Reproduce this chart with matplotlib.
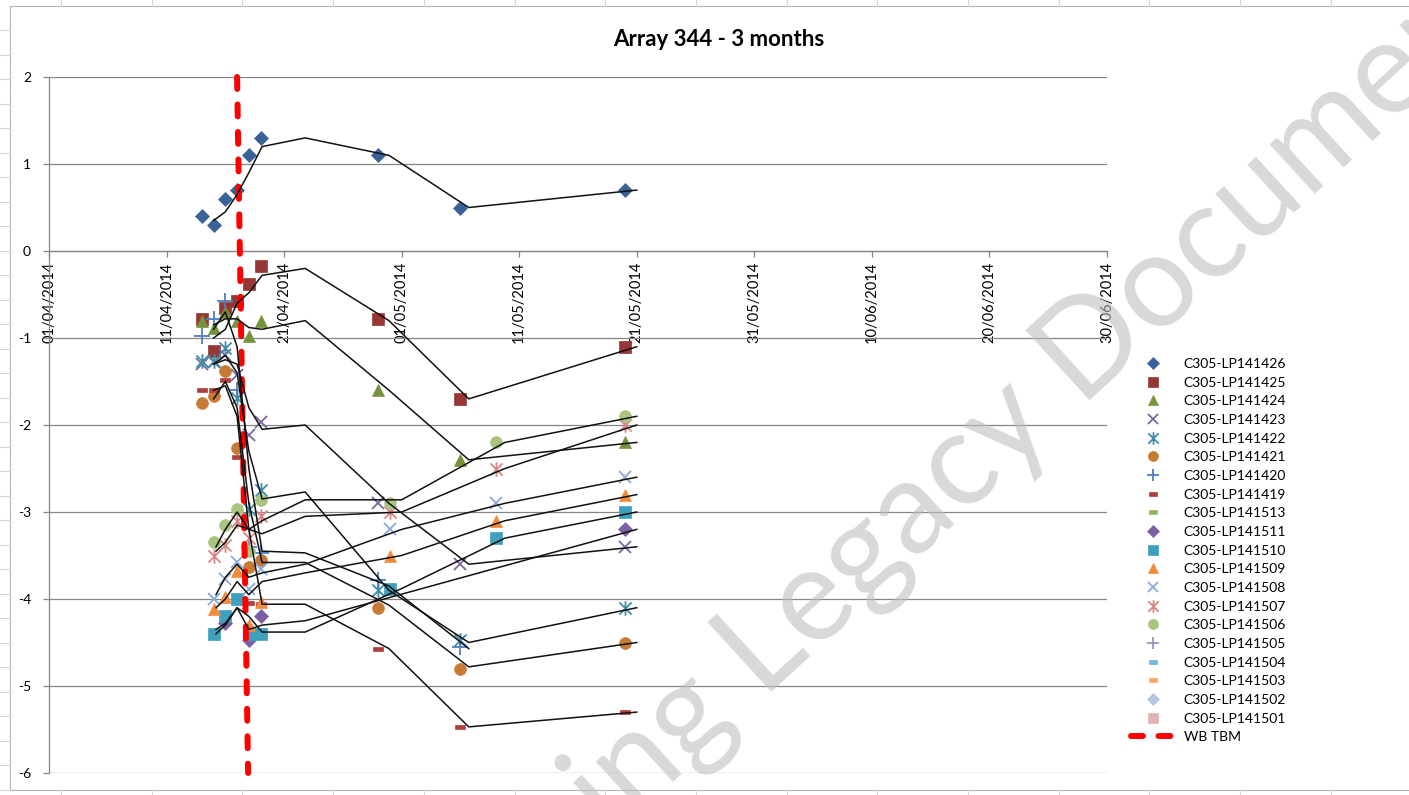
import numpy as np
import pandas as pd
import matplotlib
matplotlib.use("Agg")
import matplotlib.pyplot as plt
import matplotlib.dates as mdates
from matplotlib.path import Path
from matplotlib.lines import Line2D

plt.rcParams["font.family"] = ["Lato", "DejaVu Sans"]
plt.rcParams["axes.unicode_minus"] = False

# ---------------- data ----------------
TITLE = "Array 344 - 3 months"

TICK_DATES = ["2014-04-01", "2014-04-11", "2014-04-21", "2014-05-01", "2014-05-11",
              "2014-05-21", "2014-05-31", "2014-06-10", "2014-06-20", "2014-06-30"]
TICK_LABELS = ["01/04/2014", "11/04/2014", "21/04/2014", "01/05/2014", "11/05/2014",
               "21/05/2014", "31/05/2014", "10/06/2014", "20/06/2014", "30/06/2014"]

# LP14xx readings
A_DATES = ["2014-04-14", "2014-04-15", "2014-04-16", "2014-04-17", "2014-04-18",
           "2014-04-19", "2014-04-29", "2014-05-06", "2014-05-20"]
A_LINE_DATES = ["2014-04-15 00:00", "2014-04-16 00:00", "2014-04-17 00:00", "2014-04-18 00:00",
                "2014-04-19 03:00", "2014-04-22 19:00", "2014-04-29 22:00", "2014-05-06 17:00",
                "2014-05-21 00:00"]

LP141426 = [0.4, 0.3, 0.6, 0.7, 1.1, 1.3, 1.1, 0.5, 0.7]
LP141425 = [-0.78, -1.15, -0.66, -0.57, -0.38, -0.17, -0.78, -1.7, -1.1]
LP141424 = [-0.8, -0.89, -0.7, -0.8, -0.98, -0.8, -1.6, -2.4, -2.2]
LP141423 = [-1.3, -1.28, -1.2, -1.43, -2.12, -1.97, -2.9, -3.6, -3.4]
LP141422 = [-1.27, -1.27, -1.12, -1.69, -2.97, -2.75, -3.9, -4.47, -4.1]
LP141421 = [-1.75, -1.67, -1.38, -2.26, -3.63, -3.55, -4.1, -4.8, -4.5]
LP141420 = [-0.98, -0.78, -0.58, -1.6, -3.4, -3.47, -3.78, -4.55, np.nan]
LP141419 = [-1.6, -1.6, -1.48, -2.37, -4.05, -4.06, -4.57, -5.47, -5.3]

LP141426_TREND = [0.35, 0.45, 0.65, 0.9, 1.2, 1.3, 1.1, 0.5, 0.7]
LP141425_TREND = [-1.0, -0.9, -0.6, -0.48, -0.28, -0.2, -0.8, -1.7, -1.1]
LP141424_TREND = [-0.85, -0.78, -0.78, -0.88, -0.9, -0.8, -1.6, -2.4, -2.2]
LP141423_TREND = [-1.3, -1.25, -1.3, -1.8, -2.05, -2.0, -2.9, -3.6, -3.4]
LP141422_TREND = [-1.3, -1.2, -1.4, -2.3, -2.85, -2.77, -3.9, -4.5, -4.1]
LP141421_TREND = [-1.7, -1.5, -1.8, -2.9, -3.58, -3.58, -4.07, -4.78, -4.5]
LP141420_TREND = [-0.9, -0.7, -1.1, -2.5, -3.45, -3.47, -3.85, -4.57, np.nan]
LP141419_TREND = [-1.6, -1.55, -1.9, -3.2, -4.06, -4.06, -4.57, -5.47, -5.3]

# LP15xx readings
B_DATES = ["2014-04-15", "2014-04-16", "2014-04-17", "2014-04-18", "2014-04-19",
           "2014-04-30", "2014-05-09", "2014-05-20"]
B_LINE_DATES = ["2014-04-15 05:00", "2014-04-16 00:00", "2014-04-17 00:00", "2014-04-18 00:00",
                "2014-04-19 03:00", "2014-04-22 19:00", "2014-05-01 00:00", "2014-05-09 19:00",
                "2014-05-21 00:00"]

LP141511 = [np.nan, -4.28, np.nan, -4.47, -4.2, np.nan, np.nan, -3.2]
LP141510 = [-4.4, -4.2, -4.0, -4.4, -4.4, -3.88, -3.3, -3.0]
LP141509 = [-4.12, -3.98, -3.68, -4.3, -4.03, -3.5, -3.1, -2.8]
LP141508 = [-4.0, -3.77, -3.57, -3.88, -3.66, -3.2, -2.9, -2.6]
LP141507 = [-3.5, -3.38, -3.1, -3.3, -3.05, -3.0, -2.5, -2.0]
LP141506 = [-3.35, -3.15, -2.97, -3.45, -2.86, -2.9, -2.2, -1.9]

LP141511_TREND = [-4.35, -4.28, -4.1, -4.35, -4.3, -4.25, np.nan, np.nan, -3.2]
LP141510_TREND = [-4.4, -4.3, -4.1, -4.2, -4.38, -4.38, -3.88, -3.3, -3.0]
LP141509_TREND = [-4.1, -4.0, -3.8, -3.95, -3.8, -3.7, -3.5, -3.1, -2.8]
LP141508_TREND = [-3.95, -3.75, -3.6, -3.75, -3.7, -3.6, -3.2, -2.9, -2.6]
LP141507_TREND = [-3.45, -3.35, -3.15, -3.2, -3.25, -3.05, -3.0, -2.5, -2.0]
LP141506_TREND = [-3.4, -3.2, -3.0, -3.2, -3.1, -2.86, -2.86, -2.2, -1.9]

TBM_DATES = ["2014-04-17 00:00", "2014-04-17 22:30"]
TBM_VALUES = [2, -6]

# ---------------- styling ----------------
ASTERISK = Path([(-1, -1), (1, 1), (-1, 1), (1, -1), (0, -1.2), (0, 1.2)],
                [Path.MOVETO, Path.LINETO, Path.MOVETO, Path.LINETO, Path.MOVETO, Path.LINETO])
DASH = Path([(-1, -0.45), (1, -0.45), (1, 0.45), (-1, 0.45), (-1, -0.45)],
            [Path.MOVETO, Path.LINETO, Path.LINETO, Path.LINETO, Path.CLOSEPOLY])

STYLE = {
    "C305-LP141426": dict(marker="D", ms=7, color="#3A6296"),
    "C305-LP141425": dict(marker="s", ms=8, color="#953735"),
    "C305-LP141424": dict(marker="^", ms=9, color="#76923C"),
    "C305-LP141423": dict(marker="x", ms=8.5, color="#7B67A0", line=True),
    "C305-LP141422": dict(marker=ASTERISK, ms=10.5, color="#3E8EA8", line=True),
    "C305-LP141421": dict(marker="o", ms=8.5, color="#C77A35"),
    "C305-LP141420": dict(marker="+", ms=11, color="#4F7EC0", line=True),
    "C305-LP141419": dict(marker=DASH, ms=6.5, color="#B0403D"),
    "C305-LP141513": dict(marker=DASH, ms=6.5, color="#93B55A"),
    "C305-LP141511": dict(marker="D", ms=7, color="#7B5FA0"),
    "C305-LP141510": dict(marker="s", ms=8, color="#3FA0BD"),
    "C305-LP141509": dict(marker="^", ms=9, color="#F28C3C"),
    "C305-LP141508": dict(marker="x", ms=8.5, color="#8AA8DA", line=True),
    "C305-LP141507": dict(marker=ASTERISK, ms=10.5, color="#D98685", line=True),
    "C305-LP141506": dict(marker="o", ms=8.5, color="#A9C47F"),
    "C305-LP141505": dict(marker="+", ms=11, color="#A090C0", line=True),
    "C305-LP141504": dict(marker=DASH, ms=6.5, color="#6BBDD3"),
    "C305-LP141503": dict(marker=DASH, ms=6.5, color="#F8A86A"),
    "C305-LP141502": dict(marker="D", ms=7, color="#B4C4E3"),
    "C305-LP141501": dict(marker="s", ms=8, color="#E0B4B4"),
}

A_SERIES = {
    "C305-LP141426": (LP141426, LP141426_TREND),
    "C305-LP141425": (LP141425, LP141425_TREND),
    "C305-LP141424": (LP141424, LP141424_TREND),
    "C305-LP141423": (LP141423, LP141423_TREND),
    "C305-LP141422": (LP141422, LP141422_TREND),
    "C305-LP141421": (LP141421, LP141421_TREND),
    "C305-LP141420": (LP141420, LP141420_TREND),
    "C305-LP141419": (LP141419, LP141419_TREND),
}
B_SERIES = {
    "C305-LP141511": (LP141511, LP141511_TREND),
    "C305-LP141510": (LP141510, LP141510_TREND),
    "C305-LP141509": (LP141509, LP141509_TREND),
    "C305-LP141508": (LP141508, LP141508_TREND),
    "C305-LP141507": (LP141507, LP141507_TREND),
    "C305-LP141506": (LP141506, LP141506_TREND),
}


def to_num(dates):
    return mdates.date2num(pd.to_datetime(dates).to_numpy())


def marker_kw(st):
    kw = dict(linestyle="none", marker=st["marker"], markersize=st["ms"])
    if st.get("line"):
        kw.update(markerfacecolor="none", markeredgecolor=st["color"], markeredgewidth=1.3)
    else:
        kw.update(markerfacecolor=st["color"], markeredgecolor=st["color"], markeredgewidth=0.5)
    return kw


W, H = 1409, 795
fig = plt.figure(figsize=(W / 100, H / 100), dpi=100)
ax = fig.add_axes([49 / W, 22 / H, 1058 / W, 696 / H])

handles = {}
for dates, line_dates, series in ((A_DATES, A_LINE_DATES, A_SERIES),
                                  (B_DATES, B_LINE_DATES, B_SERIES)):
    xm = to_num(dates)
    xl = to_num(line_dates)
    for name, (vals, trend) in series.items():
        v = np.array(vals, dtype=float)
        m = np.isfinite(v)
        h, = ax.plot(xm[m], v[m], zorder=3, clip_on=False, **marker_kw(STYLE[name]))
        handles[name] = h
        t = np.array(trend, dtype=float)
        mt = np.isfinite(t)
        ax.plot(xl[mt], t[mt], color="#111111", lw=1.1, zorder=5)

tbm, = ax.plot(to_num(TBM_DATES), TBM_VALUES, color="#FF0000", lw=4.3,
               dashes=(2.0, 2.6), dash_capstyle="round", zorder=4, clip_on=False)

# axes styling
x0, x1 = to_num(["2014-04-01", "2014-06-30"])
ax.set_xlim(x0, x1)
ax.set_ylim(-6, 2)
ax.set_xticks(to_num(TICK_DATES))
ax.set_xticklabels(TICK_LABELS)
ax.set_yticks(range(-6, 3))
ax.set_yticklabels([str(v) for v in range(-6, 3)])
for s in ("top", "right"):
    ax.spines[s].set_visible(False)
ax.spines["bottom"].set_position(("data", 0))
for s in ("bottom", "left"):
    ax.spines[s].set_color("#868686")
    ax.spines[s].set_linewidth(0.9)
ax.tick_params(axis="x", direction="out", length=4, width=0.9, color="#868686",
               pad=4, labelsize=10.5, labelcolor="#000000", labelrotation=90)
ax.tick_params(axis="y", direction="out", length=4, width=0.9, color="#868686",
               pad=9, labelsize=10, labelcolor="#000000")
for lbl in ax.get_xticklabels():
    lbl.set_ha("center")
    lbl.set_va("top")
ax.yaxis.grid(True, color="#868686", lw=0.9)
ax.set_axisbelow(True)
ax.patch.set_alpha(0)

fig.text(0.510, 0.950, TITLE, ha="center", va="center", fontsize=16, fontweight="bold")

# legend
leg_handles, leg_labels = [], []
for name, st in STYLE.items():
    h = handles.get(name)
    if h is None:
        h = Line2D([], [], **marker_kw(st))
    leg_handles.append(h)
    leg_labels.append(name)
leg_handles.append(tbm)
leg_labels.append("WB TBM")
fig.legend(leg_handles, leg_labels, loc="upper left", bbox_to_anchor=(1131 / W, 1 - 358 / H),
           frameon=False, fontsize=10, handlelength=3.2, handletextpad=0.6,
           labelspacing=0.48, borderpad=0, borderaxespad=0, numpoints=1, markerscale=0.85)

# surrounding sheet cells and chart border
def fig_line(xs, ys, color, lw=0.8):
    fig.add_artist(Line2D([x / W for x in xs], [1 - y / H for y in ys],
                          transform=fig.transFigure, color=color, lw=lw))

fig_line([10, 10], [6, 790], "#B5B5B5")
fig_line([10, W], [6, 6], "#B5B5B5")
fig_line([10, W], [790, 790], "#B5B5B5")
for y in np.arange(30, H, 24.5):
    fig_line([0, 10], [y, y], "#D4D4D4")
for x in np.arange(61, W, 90.7):
    fig_line([x, x], [0, 6], "#D4D4D4")
    fig_line([x, x], [790, H], "#D4D4D4")

# watermark
fig.text(612 / W, 1 - 838 / H, "ing Legacy Document", rotation=42.5, rotation_mode="anchor",
         ha="left", va="baseline", fontsize=94, color="#BFBFBF", alpha=0.6, zorder=10)

fig.savefig("out.png", dpi=100)
